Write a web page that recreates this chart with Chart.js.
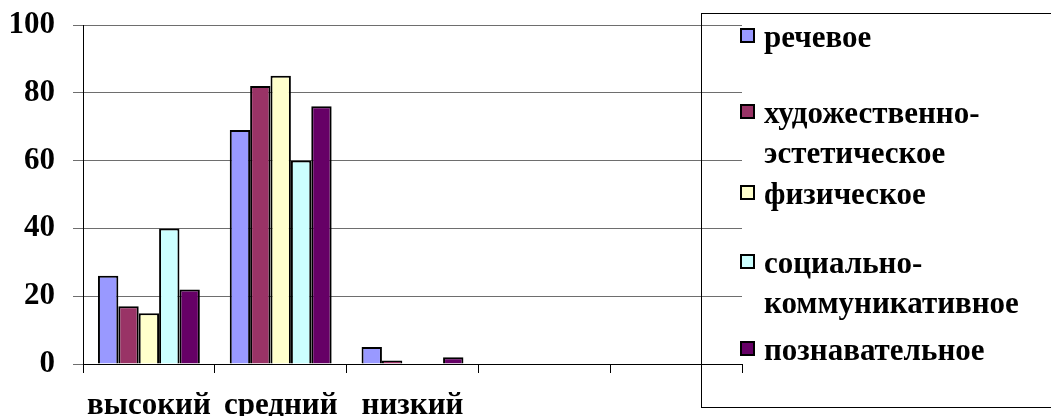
<!DOCTYPE html>
<html>
<head>
<meta charset="utf-8">
<script src="https://cdn.jsdelivr.net/npm/chart.js@4/dist/chart.umd.min.js"></script>
<style>
  html, body { margin: 0; padding: 0; background: #fff; }
  #wrap { position: relative; width: 1051px; height: 416px; overflow: hidden; }
  #legend { position: absolute; left: 701px; top: 13px; width: 360px; height: 395px;
            border: 1px solid #000; box-sizing: border-box; background: transparent; }
  .item { position: absolute; left: 38px; display: flex; align-items: flex-start;
          font-family: "Liberation Serif", serif;
          font-weight: bold; font-size: 31px; color: #000; line-height: 40px; }
  .sw { width: 11px; height: 11px; border: 2px solid #000; margin-top: 11px; margin-right: 9px; flex: none; }
</style>
</head>
<body>
<div id="wrap">
  <canvas id="c" width="1051" height="416"></canvas>
  <div id="legend"></div>
</div>
<script>
const categories = ['высокий', 'средний', 'низкий', '', ''];
const seriesNames = ['речевое', 'художественно-эстетическое', 'физическое', 'социально-коммуникативное', 'познавательное'];
const rechevoe = [26, 69, 5, null, null];
const khudozh = [17, 82, 1, null, null];
const fizich = [15, 85, 0, null, null];
const social = [40, 60, 0, null, null];
const poznav = [22, 76, 2, null, null];
const yTicks = [0, 20, 40, 60, 80, 100];
const colors = ['#9999FF', '#993366', '#FFFFCC', '#CCFFFF', '#660066'];

const values = [rechevoe, khudozh, fizich, social, poznav];
const font = { family: '"Liberation Serif", serif', weight: 'bold' };

new Chart(document.getElementById('c'), {
  type: 'bar',
  data: {
    labels: categories,
    datasets: seriesNames.map((n, i) => ({
      label: n, data: values[i], backgroundColor: colors[i],
      borderColor: '#000', borderWidth: 2, borderSkipped: 'start',
      categoryPercentage: 0.773, barPercentage: 1
    }))
  },
  options: {
    responsive: false, animation: false, devicePixelRatio: 1,
    layout: { padding: { left: 0, top: 25, right: 309, bottom: 0 } },
    plugins: { legend: { display: false }, tooltip: { enabled: false } },
    scales: {
      x: {
        offset: true,
        grid: { offset: true, drawOnChartArea: false, tickLength: 9, color: '#000', lineWidth: 1 },
        border: { color: '#000', width: 1 },
        ticks: { color: '#000', font: Object.assign({ size: 31 }, font), padding: 14, maxRotation: 0, autoSkip: false },
        afterFit: s => { s.height = 52; s.paddingLeft = 0; s.paddingRight = 0; }
      },
      y: {
        min: 0, max: 100,
        afterBuildTicks: s => { s.ticks = yTicks.map(v => ({ value: v })); },
        grid: { color: '#6e6e6e', lineWidth: 1, tickLength: 10 },
        border: { color: '#000', width: 1 },
        ticks: { color: '#000', font: Object.assign({ size: 31 }, font), padding: 18 },
        afterFit: s => { s.width = 83; s.paddingTop = 0; s.paddingBottom = 0; }
      }
    }
  }
});

const legendTops = [3, 79, 160, 229, 316];
const leg = document.getElementById('legend');
seriesNames.forEach((n, i) => {
  const it = document.createElement('div');
  it.className = 'item';
  it.style.top = legendTops[i] + 'px';
  const sw = document.createElement('div');
  sw.className = 'sw';
  sw.style.background = colors[i];
  const tx = document.createElement('div');
  tx.innerHTML = n.replace('-', '-<br>');
  it.appendChild(sw); it.appendChild(tx);
  leg.appendChild(it);
});
</script>
</body>
</html>
